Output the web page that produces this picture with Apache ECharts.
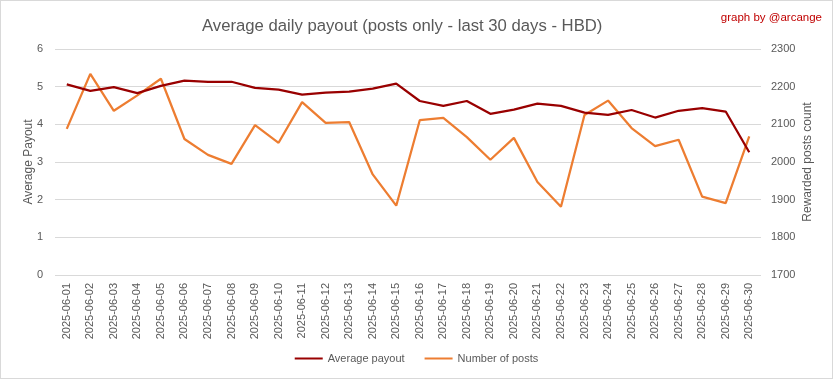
<!DOCTYPE html>
<html><head><meta charset="utf-8">
<script src="https://cdn.jsdelivr.net/npm/echarts@6/dist/echarts.min.js"></script>
<style>
html,body{margin:0;padding:0;background:#fff;}
#c{width:833px;height:379px;box-sizing:border-box;border:1px solid #d9d9d9;}
</style></head>
<body><div id="c"></div>
<script>
const categories = ["2025-06-01","2025-06-02","2025-06-03","2025-06-04","2025-06-05","2025-06-06","2025-06-07","2025-06-08","2025-06-09","2025-06-10","2025-06-11","2025-06-12","2025-06-13","2025-06-14","2025-06-15","2025-06-16","2025-06-17","2025-06-18","2025-06-19","2025-06-20","2025-06-21","2025-06-22","2025-06-23","2025-06-24","2025-06-25","2025-06-26","2025-06-27","2025-06-28","2025-06-29","2025-06-30"];
const averagePayout = [5.06,4.89,4.99,4.83,5.02,5.16,5.13,5.13,4.97,4.92,4.79,4.84,4.87,4.95,5.08,4.62,4.49,4.62,4.28,4.39,4.55,4.49,4.31,4.25,4.38,4.18,4.36,4.43,4.34,3.26];
const numberOfPosts = [2088,2234,2136,2177,2221,2061,2019,1995,2098,2051,2159,2104,2106,1967,1884,2111,2117,2066,2006,2064,1947,1881,2125,2163,2090,2042,2059,1908,1891,2068];
const leftTicks = [0,1,2,3,4,5,6];
const rightTicks = [1700,1800,1900,2000,2100,2200,2300];

const FONT = "'Liberation Sans',sans-serif";
const chart = echarts.init(document.getElementById('c'), null, {renderer:'canvas'});
chart.setOption({
  animation:false,
  backgroundColor:'#fff',
  title:[
    {text:'Average daily payout (posts only - last 30 days - HBD)', left:196, top:12,
     textStyle:{color:'#595959', fontSize:16.7, fontWeight:'normal', fontFamily:FONT}},
    {text:'graph by @arcange', right:5, top:6,
     textStyle:{color:'#c00000', fontSize:11.5, fontWeight:'normal', fontFamily:FONT}}
  ],
  legend:{
    bottom:9, left:'center', itemWidth:28, itemHeight:2, itemGap:20,
    icon:'rect',
    textStyle:{color:'#595959', fontSize:11, fontFamily:FONT},
    data:['Average payout','Number of posts']
  },
  grid:{left:54, right:71, top:48, bottom:103, containLabel:false},
  xAxis:{
    type:'category', data:categories, boundaryGap:true,
    axisLine:{show:false}, axisTick:{show:false},
    axisLabel:{rotate:90, color:'#595959', fontSize:11, fontFamily:FONT, interval:0, margin:8}
  },
  yAxis:[
    {type:'value', min:leftTicks[0], max:leftTicks[leftTicks.length-1], interval:1, position:'left',
     name:'Average Payout', nameLocation:'middle', nameGap:20, nameRotate:90, nameMoveOverlap:false,
     nameTextStyle:{color:'#595959', fontSize:12, fontFamily:FONT},
     axisLine:{show:false}, axisTick:{show:false},
     axisLabel:{color:'#595959', fontSize:11, fontFamily:FONT, margin:12},
     splitLine:{lineStyle:{color:'#d9d9d9', width:1}}},
    {type:'value', min:rightTicks[0], max:rightTicks[rightTicks.length-1], interval:100, position:'right',
     name:'Rewarded posts count', nameLocation:'middle', nameGap:41, nameRotate:90, nameMoveOverlap:false,
     nameTextStyle:{color:'#595959', fontSize:12, fontFamily:FONT},
     axisLine:{show:false}, axisTick:{show:false},
     axisLabel:{color:'#595959', fontSize:11, fontFamily:FONT, margin:10, formatter:v=>String(v)},
     splitLine:{show:false}}
  ],
  series:[
    {name:'Average payout', type:'line', yAxisIndex:0, data:averagePayout,
     showSymbol:false, symbol:'none', color:'#990000', lineStyle:{color:'#990000', width:2.25}, z:3},
    {name:'Number of posts', type:'line', yAxisIndex:1, data:numberOfPosts,
     showSymbol:false, symbol:'none', color:'#ed7d31', lineStyle:{color:'#ed7d31', width:2.25}, z:2}
  ]
});
</script></body></html>
